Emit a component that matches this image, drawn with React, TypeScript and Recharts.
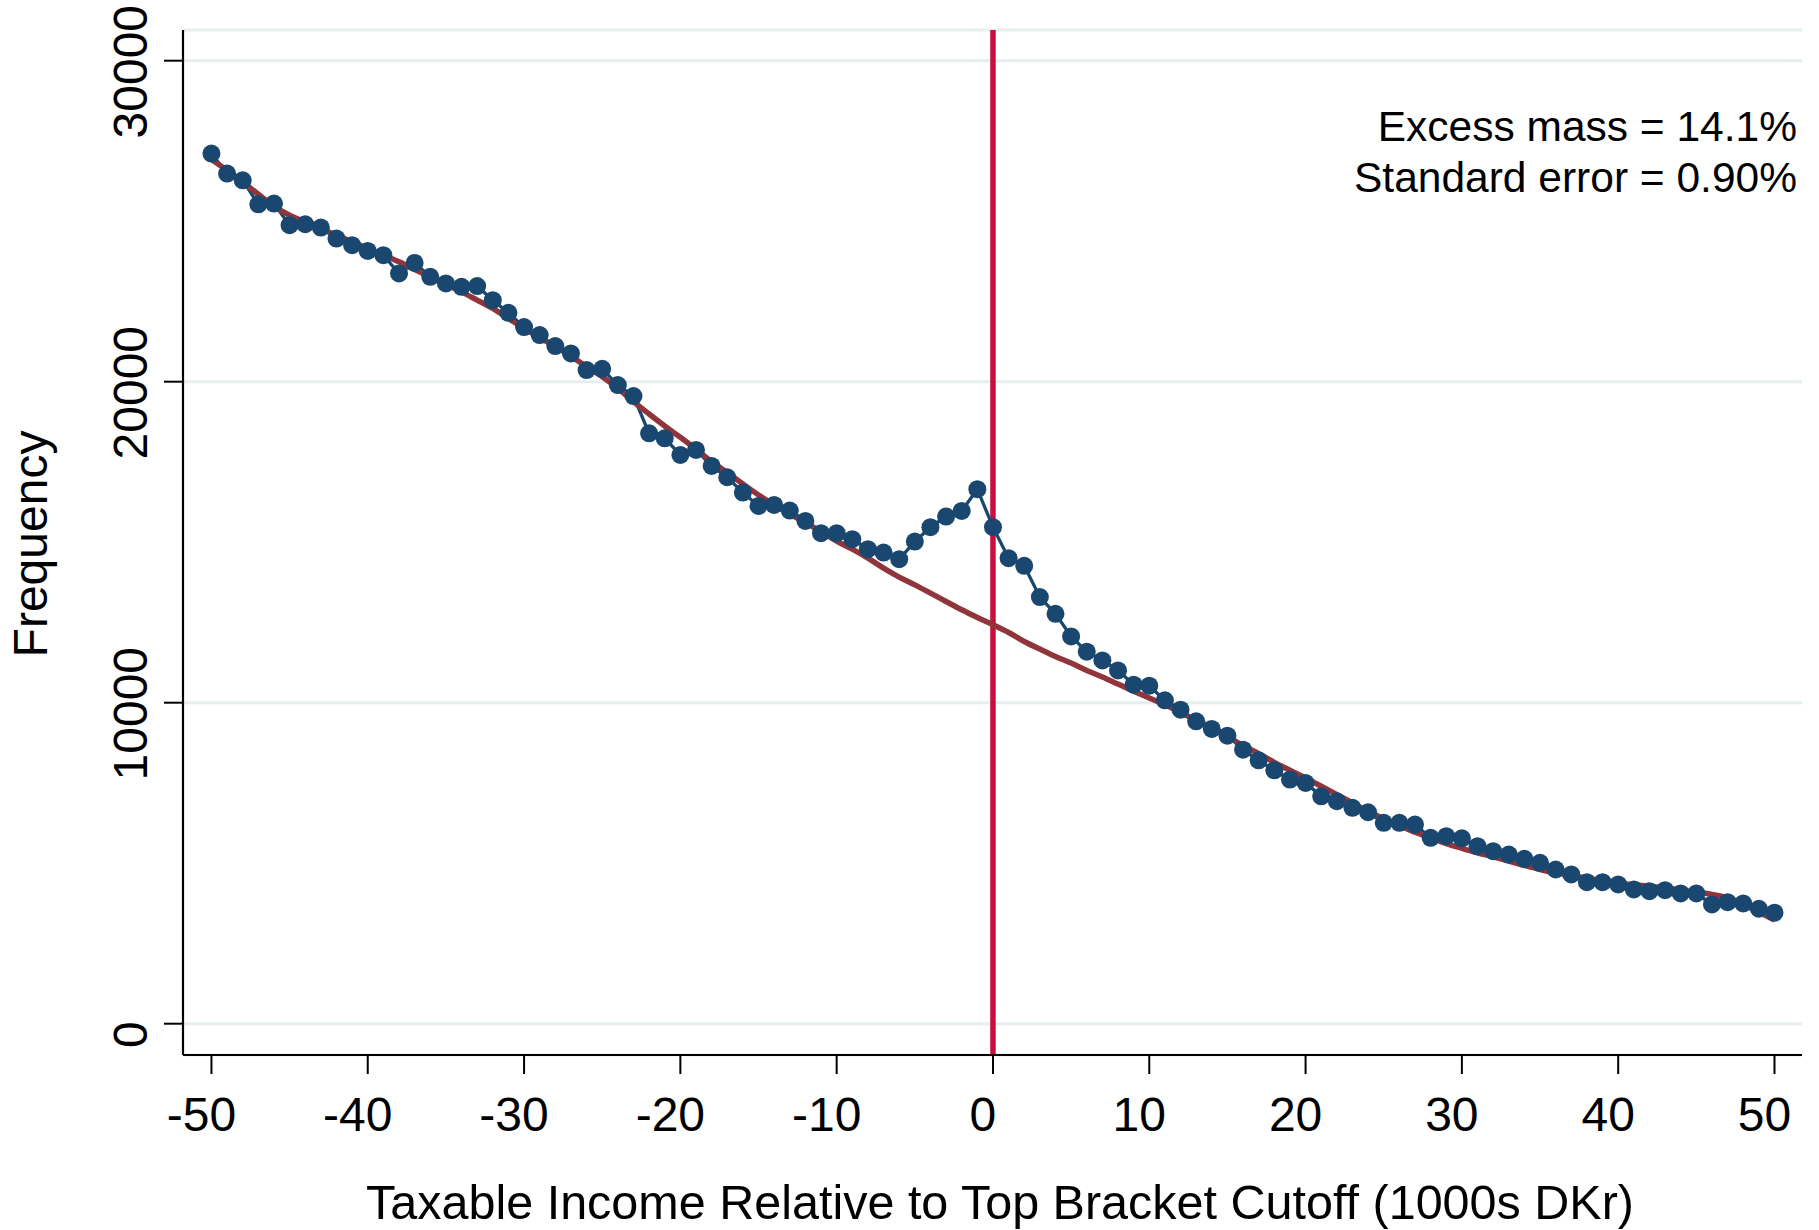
import {
  CartesianGrid,
  Line,
  LineChart,
  ReferenceLine,
  XAxis,
  YAxis,
} from "recharts";

// Bunching at the top-bracket cutoff: observed counts per 1000 DKr bin (navy,
// connected dots) against the fitted counterfactual density (maroon).

const bins = [
  -50, -49, -48, -47, -46, -45, -44, -43, -42, -41, -40, -39, -38, -37, -36, -35, -34,
  -33, -32, -31, -30, -29, -28, -27, -26, -25, -24, -23, -22, -21, -20, -19, -18, -17,
  -16, -15, -14, -13, -12, -11, -10, -9, -8, -7, -6, -5, -4, -3, -2, -1, 0, 1, 2, 3, 4,
  5, 6, 7, 8, 9, 10, 11, 12, 13, 14, 15, 16, 17, 18, 19, 20, 21, 22, 23, 24, 25, 26, 27,
  28, 29, 30, 31, 32, 33, 34, 35, 36, 37, 38, 39, 40, 41, 42, 43, 44, 45, 46, 47, 48,
  49, 50,
];

const frequency = [
  27105, 26483, 26274, 25527, 25549, 24874, 24905, 24803, 24460, 24252, 24074, 23940,
  23371, 23701, 23266, 23060, 22954, 22980, 22540, 22146, 21700, 21451, 21109, 20882,
  20362, 20400, 19896, 19553, 18392, 18237, 17717, 17873, 17375, 17023, 16545, 16131,
  16162, 15985, 15664, 15281, 15281, 15094, 14783, 14678, 14471, 15020, 15468, 15798,
  15975, 16650, 15468, 14503, 14264, 13289, 12770, 12064, 11588, 11317, 11006, 10560,
  10530, 10073, 9783, 9419, 9182, 8974, 8538, 8205, 7894, 7605, 7502, 7085, 6930, 6724,
  6587, 6257, 6257, 6205, 5791, 5841, 5775, 5529, 5374, 5271, 5137, 5013, 4804, 4649,
  4409, 4409, 4338, 4182, 4129, 4160, 4058, 4058, 3715, 3787, 3746, 3581, 3457,
];

const counterfactual = [
  26920, 26584, 26222, 25838, 25465, 25185, 24977, 24771, 24563, 24355, 24149, 23940,
  23733, 23495, 23266, 23038, 22799, 22541, 22282, 21971, 21660, 21380, 21088, 20798,
  20466, 20154, 19793, 19377, 18993, 18620, 18268, 17895, 17509, 17167, 16815, 16473,
  16162, 15882, 15611, 15331, 15035, 14783, 14503, 14192, 13912, 13672, 13414, 13153,
  12894, 12655, 12428, 12188, 11908, 11672, 11442, 11236, 11006, 10800, 10580, 10360,
  10147, 9938, 9699, 9450, 9213, 8952, 8663, 8414, 8143, 7894, 7658, 7396, 7138, 6880,
  6618, 6382, 6173, 5965, 5791, 5613, 5464, 5324, 5200, 5063, 4929, 4804, 4702, 4618,
  4534, 4440, 4369, 4328, 4285, 4235, 4160, 4098, 4027, 3924, 3715, 3476, 3227,
];

const xTicks = [-50, -40, -30, -20, -10, 0, 10, 20, 30, 40, 50];
const yTicks = [0, 10000, 20000, 30000];
const cutoff = 0;
const annotation = ["Excess mass = 14.1%", "Standard error = 0.90%"];

const FONT = "'Liberation Sans', Arial, Helvetica, sans-serif";
const NAVY = "#1A476F";
const MAROON = "#90353B";
const CRANBERRY = "#C8103E";

const W = 1819;
const H = 1230;

const data = bins.map((bin, i) => ({
  bin,
  freq: frequency[i],
  fit: counterfactual[i],
}));

function XTick({ x, y, payload }: any) {
  return (
    <text x={x - 10} y={y + 57} textAnchor="middle" fontSize={48} fontFamily={FONT} fill="#000">
      {payload.value}
    </text>
  );
}

function YTick({ x, y, payload }: any) {
  const bx = x - 17;
  const cy = y + 11;
  return (
    <text
      x={bx}
      y={cy}
      transform={`rotate(-90, ${bx}, ${cy})`}
      textAnchor="middle"
      fontSize={48}
      fontFamily={FONT}
      fill="#000"
    >
      {payload.value}
    </text>
  );
}

export default function App() {
  return (
    <div style={{ position: "absolute", left: 0, top: 0, width: W, height: H, background: "#fff" }}>
      <LineChart width={W} height={H} data={data} margin={{ top: 30, right: 17, bottom: 0, left: 0 }}>
        <CartesianGrid vertical={false} stroke="#E6EEF0" strokeWidth={3} />
        <XAxis
          dataKey="bin"
          type="number"
          domain={[-51.82, 51.76]}
          allowDataOverflow
          ticks={xTicks}
          height={175}
          tickSize={19}
          tickMargin={0}
          axisLine={{ stroke: "#000", strokeWidth: 2.2 }}
          tickLine={{ stroke: "#000", strokeWidth: 2 }}
          tick={<XTick />}
        />
        <YAxis
          type="number"
          domain={[-975, 30956]}
          allowDataOverflow
          ticks={yTicks}
          width={183}
          tickSize={19}
          tickMargin={0}
          axisLine={{ stroke: "#000", strokeWidth: 2.2 }}
          tickLine={{ stroke: "#000", strokeWidth: 2 }}
          tick={<YTick />}
        />
        <ReferenceLine x={cutoff} stroke={CRANBERRY} strokeWidth={5.5} />
        <Line
          type="linear"
          dataKey="freq"
          stroke={NAVY}
          strokeWidth={3.3}
          dot={{ r: 9, fill: NAVY, stroke: NAVY, strokeWidth: 0 }}
          isAnimationActive={false}
        />
        <Line
          type="monotone"
          dataKey="fit"
          stroke={MAROON}
          strokeWidth={5.5}
          dot={false}
          isAnimationActive={false}
        />
      </LineChart>
      <svg
        width={W}
        height={H}
        style={{ position: "absolute", left: 0, top: 0, pointerEvents: "none" }}
      >
        <text
          x={47}
          y={544}
          transform="rotate(-90, 47, 544)"
          textAnchor="middle"
          fontSize={48}
          fontFamily={FONT}
          fill="#000"
        >
          Frequency
        </text>
        <text x={1000} y={1219} textAnchor="middle" fontSize={48.5} fontFamily={FONT} fill="#000">
          Taxable Income Relative to Top Bracket Cutoff (1000s DKr)
        </text>
        {annotation.map((line, i) => (
          <text
            key={line}
            x={1797}
            y={141 + i * 51}
            textAnchor="end"
            fontSize={42.5}
            fontFamily={FONT}
            fill="#000"
          >
            {line}
          </text>
        ))}
      </svg>
    </div>
  );
}
